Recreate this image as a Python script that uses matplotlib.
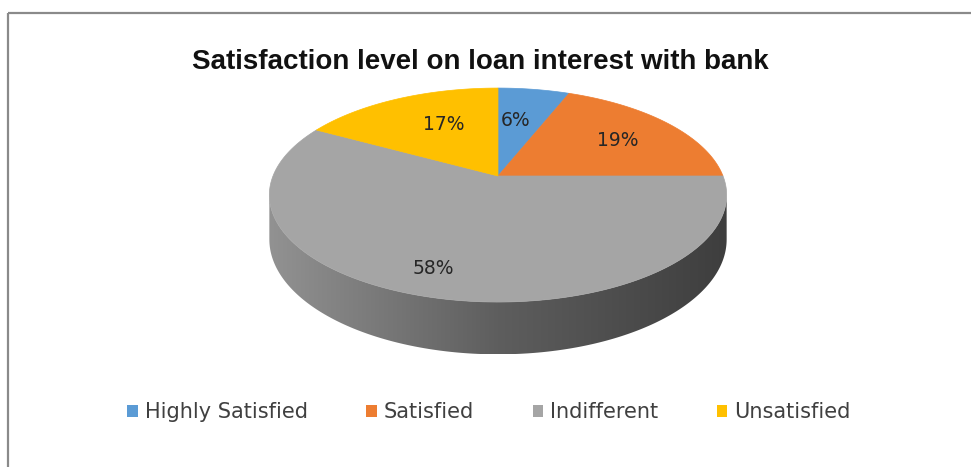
import numpy as np
import matplotlib.pyplot as plt
from matplotlib.patches import Polygon, Patch
from matplotlib.colors import to_rgb

# data
labels = ["Highly Satisfied", "Satisfied", "Indifferent", "Unsatisfied"]
values = [6, 19, 58, 17]
colors = ["#5B9BD5", "#ED7D31", "#A5A5A5", "#FFC000"]
title = "Satisfaction level on loan interest with bank"

# layout (pixels, y down)
W, H = 971, 467
cx, cy = 498, 176          # pie centre on the top face
rx, ry = 225, 103.6        # radii of the projected circle
k = 0.178                  # perspective strength
depth = 43                 # thickness of the pie
label_xy = [(516, 120), (618, 140), (433, 268), (444, 125)]


def rim(theta_deg, drop=0.0):
    # point on the rim, theta clockwise from 12 o'clock, with a simple perspective
    t = np.radians(theta_deg)
    X = np.sin(t)
    Y = -np.cos(t)
    w = 1 - k * Y
    return np.column_stack([cx + rx * X / w, cy + ry * Y / w + drop / w])


fig = plt.figure(figsize=(W / 100, H / 100), dpi=100)
ax = fig.add_axes([0, 0, 1, 1])

# side of the cylinder (front half, shaded gradient)
t1 = np.degrees(np.arccos(-k))
t2 = 360 - t1
ts = np.linspace(t1, t2, 200)
side_pts = np.vstack([rim(ts), rim(ts[::-1], depth)])
side = Polygon(side_pts, closed=True, facecolor="none", edgecolor="none")
ax.add_patch(side)

xmin, xmax = side_pts[:, 0].min(), side_pts[:, 0].max()
ymin, ymax = side_pts[:, 1].min(), side_pts[:, 1].max()
xs = np.linspace(0, 1, 300)
stops = [0.0, 0.5, 1.0]
stop_cols = np.array([to_rgb("#929292"), to_rgb("#5e5e5e"), to_rgb("#3e3e3e")])
grad = np.stack([np.interp(xs, stops, stop_cols[:, i]) for i in range(3)], axis=-1)[None, :, :]
im = ax.imshow(grad, extent=(xmin, xmax, ymax, ymin), aspect="auto", zorder=1)
im.set_clip_path(side)

# top face slices
start = 0.0
for val, col in zip(values, colors):
    end = start + val / sum(values) * 360
    ang = np.linspace(start, end, max(int(val * 4), 10))
    pts = np.vstack([[cx, cy], rim(ang)])
    ax.add_patch(Polygon(pts, closed=True, facecolor=col, edgecolor=col,
                         linewidth=0.5, zorder=2))
    start = end

for val, (lx, ly) in zip(values, label_xy):
    ax.text(lx, ly, f"{val}%", ha="center", va="center", fontsize=13.5,
            color="#262626", family="DejaVu Sans", zorder=3)

ax.text(480, 62, title, ha="center", va="center", fontsize=20,
        fontweight="bold", color="#111111", family="Liberation Sans")

handles = [Patch(facecolor=c, edgecolor="none") for c in colors]
ax.legend(handles, labels, ncol=4, loc="center",
          bbox_to_anchor=(489 / W, 1 - 412 / H), frameon=False,
          prop={"family": "DejaVu Sans", "size": 15},
          labelcolor="#404040", handlelength=0.5, handleheight=0.5,
          handletextpad=0.35, columnspacing=2.8)

# chart border
ax.plot([8, 8], [H, 13], color="#8a8a8a", lw=1.6, solid_capstyle="butt")
ax.plot([8, W], [13, 13], color="#8a8a8a", lw=1.6, solid_capstyle="butt")

ax.set_xlim(0, W)
ax.set_ylim(H, 0)
ax.axis("off")

fig.savefig("out.png", dpi=100)
